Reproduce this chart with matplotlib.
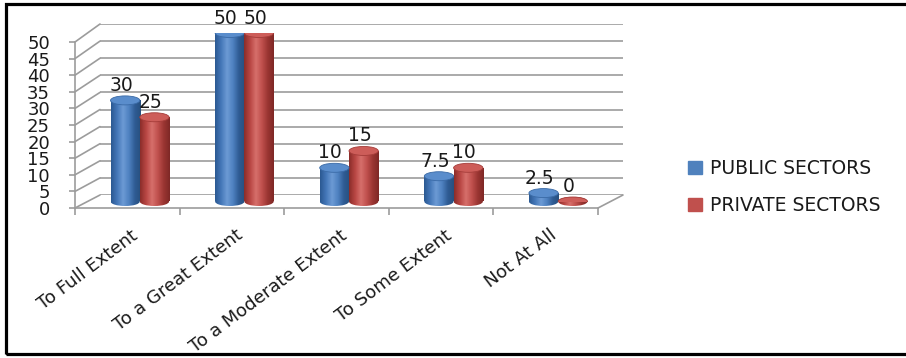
import numpy as np
import matplotlib.pyplot as plt
from matplotlib.patches import Rectangle, Ellipse, Patch, ConnectionPatch
from matplotlib.colors import LinearSegmentedColormap

categories = ['To Full Extent', 'To a Great Extent', 'To a Moderate Extent',
              'To Some Extent', 'Not At All']
public = [30, 50, 10, 7.5, 2.5]
private = [25, 50, 15, 10, 0]
series_names = ['PUBLIC SECTORS', 'PRIVATE SECTORS']
yticks = [0, 5, 10, 15, 20, 25, 30, 35, 40, 45, 50]

W, H = 906, 358
fig = plt.figure(figsize=(W / 100, H / 100), dpi=100)
plt.rcParams['font.family'] = 'DejaVu Sans'
txt = '#1a1a1a'
grid = '#9c9c9c'


def box(x0, x1, y_bot, y_top):
    # pixel box measured from the top-left corner -> figure fraction
    return [x0 / W, (H - y_bot) / H, (x1 - x0) / W, (y_bot - y_top) / H]


# three planes: back wall, mid depth (bars), front (axes + labels)
ax_back = fig.add_axes(box(100, 623, 195, 24), zorder=1)
ax_front = fig.add_axes(box(75, 598, 208, 42), zorder=2)
ax_mid = fig.add_axes(box(87.5, 610.5, 201.5, 33), zorder=3)

for a in (ax_back, ax_front, ax_mid):
    a.set_xlim(0, 5)
    a.set_ylim(0, 50)
    a.patch.set_visible(False)

# back wall gridlines
ax_back.axis('off')
ax_back.hlines(yticks, 0, 5, color=grid, lw=1.2)

# front axes
for s in ('top', 'right'):
    ax_front.spines[s].set_visible(False)
for s in ('left', 'bottom'):
    ax_front.spines[s].set_color(grid)
    ax_front.spines[s].set_linewidth(1.2)
ax_front.set_yticks(yticks)
ax_front.set_yticklabels([str(v) for v in yticks], fontsize=13, color=txt)
ax_front.tick_params(axis='y', length=4, width=1.2, color=grid, pad=14)
ax_front.set_xticks(range(6))
ax_front.set_xticklabels([])
ax_front.tick_params(axis='x', length=5, width=1.2, color=grid)

# side wall and floor edges joining front and back
for v in yticks:
    fig.add_artist(ConnectionPatch((0, v), (0, v), coordsA=ax_front.transData,
                                   coordsB=ax_back.transData, color=grid, lw=1.2))
fig.add_artist(ConnectionPatch((5, 0), (5, 0), coordsA=ax_front.transData,
                               coordsB=ax_back.transData, color=grid, lw=1.2))

# cylinders
ax_mid.axis('off')
blue_cmap = LinearSegmentedColormap.from_list(
    'blue_cyl', ['#2b5891', '#4477b8', '#6c9ad4', '#4f82c1', '#2f5c94', '#27507f'])
red_cmap = LinearSegmentedColormap.from_list(
    'red_cyl', ['#8a2d2a', '#b84643', '#d66f6b', '#c0504d', '#9a3532', '#7e2826'])
grad = np.linspace(0, 1, 128).reshape(1, -1)

p0 = ax_mid.transData.transform((0, 0))
p1 = ax_mid.transData.transform((0, 1))
cap_h = 9 / (p1[1] - p0[1])

x = np.arange(len(categories)) + 0.5
w = 0.28


def draw_cylinders(values, offset, cmap, top_color, edge_color):
    bars = ax_mid.bar(x + offset, values, width=w, align='edge',
                      color='none', edgecolor='none')
    for rect in bars:
        x0, width, height = rect.get_x(), rect.get_width(), rect.get_height()
        xc = x0 + width / 2
        # rounded base, shaded like the body
        base = Ellipse((xc, 0), width, cap_h, facecolor='none', edgecolor='none')
        ax_mid.add_patch(base)
        im = ax_mid.imshow(grad, cmap=cmap, aspect='auto', zorder=2,
                           extent=(x0, x0 + width, -cap_h / 2, cap_h / 2))
        im.set_clip_path(base)
        im.set_clip_box(fig.bbox)
        if height > 0:
            body = ax_mid.imshow(grad, cmap=cmap, aspect='auto', zorder=2,
                                 extent=(x0, x0 + width, 0, height))
            body.set_clip_path(rect)
        ax_mid.add_patch(Ellipse((xc, height), width, cap_h, facecolor=top_color,
                                 edgecolor=edge_color, lw=0.6, zorder=3))


draw_cylinders(public, -w, blue_cmap, '#5a8dcc', '#3a6aa6')
draw_cylinders(private, 0, red_cmap, '#cd5d59', '#a43c39')
ax_mid.set_xlim(0, 5)
ax_mid.set_ylim(0, 50)

# value labels
for xi, pub, prv in zip(x, public, private):
    ax_mid.annotate(f'{pub:g}', (xi - w / 2, pub), xytext=(-4, 15),
                    textcoords='offset pixels', ha='center', va='center',
                    fontsize=13.5, color=txt, zorder=5)
    ax_mid.annotate(f'{prv:g}', (xi + w / 2, prv), xytext=(-4, 15),
                    textcoords='offset pixels', ha='center', va='center',
                    fontsize=13.5, color=txt, zorder=5)

# category labels
for xi, name in zip(x, categories):
    ax_mid.annotate(name, (xi, 0), xytext=(-4, -32), textcoords='offset pixels',
                    rotation=37, rotation_mode='anchor', ha='right', va='center',
                    fontsize=13, color=txt, annotation_clip=False)

# legend
handles = [Patch(color='#4f81bd', label=series_names[0]),
           Patch(color='#c0504d', label=series_names[1])]
fig.legend(handles=handles, loc='center left', bbox_to_anchor=(688 / W, (H - 187) / H),
           frameon=False, fontsize=13.5, handlelength=0.75, handleheight=0.75,
           handletextpad=0.45, labelspacing=0.95, borderaxespad=0, borderpad=0,
           labelcolor=txt)

# outer frame, open on the right where the page is cut
fig.add_artist(Rectangle((6 / W, 4 / H), 1.05, 350 / H, transform=fig.transFigure,
                         fill=False, edgecolor='black', lw=2.3, clip_on=False))

fig.savefig('out.png', dpi=100)
